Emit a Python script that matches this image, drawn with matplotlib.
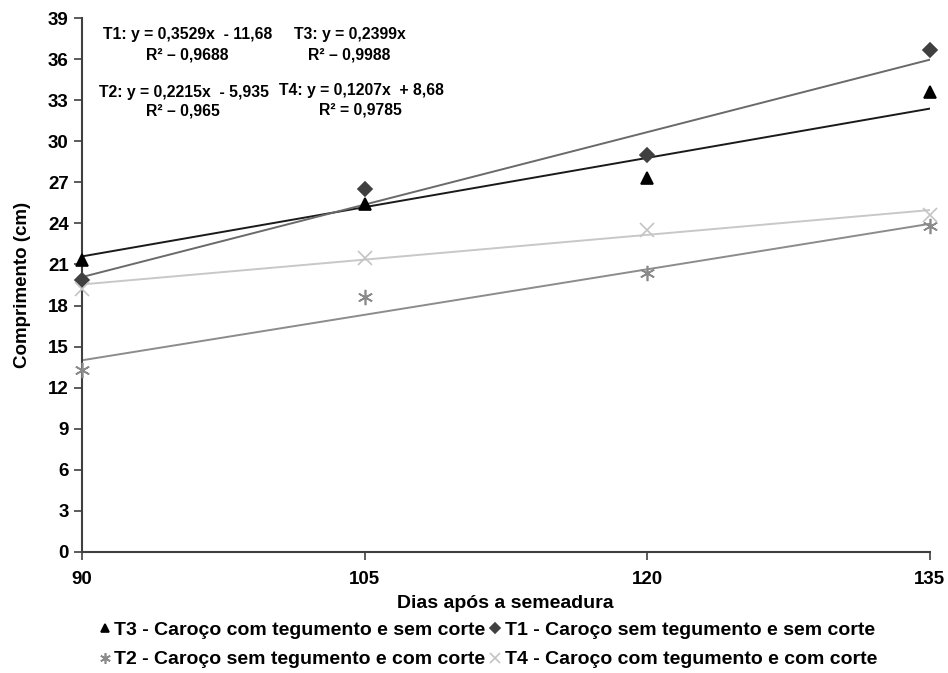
import numpy as np
import matplotlib.pyplot as plt

# days after sowing
dias = [90, 105, 120, 135]

# measured lengths (cm)
t1 = [19.9, 26.5, 29.0, 36.7]
t2 = [13.3, 18.6, 20.4, 23.8]
t3 = [21.3, 25.4, 27.3, 33.6]
t4 = [19.2, 21.5, 23.5, 24.6]

# trend line coefficients (slope, intercept) as printed on the chart
coef_t1 = (0.3529, -11.68)
coef_t2 = (0.2215, -5.935)
coef_t3 = (0.2399, 0.0)
coef_t4 = (0.1207, 8.68)

eq_labels = [
    ("T1: y = 0,3529x  - 11,68", "R² – 0,9688"),
    ("T3: y = 0,2399x", "R² – 0,9988"),
    ("T2: y = 0,2215x  - 5,935", "R² – 0,965"),
    ("T4: y = 0,1207x  + 8,68", "R² = 0,9785"),
]

plt.rcParams['font.family'] = ['Liberation Sans', 'DejaVu Sans']
plt.rcParams['font.weight'] = 'bold'

fig = plt.figure(figsize=(9.48, 6.73), dpi=100)
ax = fig.add_axes([0.0865, 0.18, 0.894, 0.793])

xs = np.array([dias[0], dias[-1]])
series = [
    (t3, coef_t3, '^', '#000000', '#1a1a1a', 8, "T3 - Caroço com tegumento e sem corte"),
    (t2, coef_t2, (6, 2, 0), '#8a8a8a', '#8c8c8c', 11, "T2 - Caroço sem tegumento e com corte"),
    (t1, coef_t1, 'D', '#404040', '#6a6a6a', 7, "T1 - Caroço sem tegumento e sem corte"),
    (t4, coef_t4, 'x', '#c4c4c4', '#c8c8c8', 10, "T4 - Caroço com tegumento e com corte"),
]

handles = []
for vals, (a, b), mk, mc, lc, ms, lab in series:
    ax.plot(xs, a * xs + b, color=lc, lw=1.4, zorder=2)
    h, = ax.plot(dias, vals, linestyle='none', marker=mk, color=mc,
                 markersize=ms, markeredgewidth=1.2, clip_on=False, zorder=3, label=lab)
    handles.append(h)

ax.set_xlim(90, 135)
ax.set_ylim(0, 39)
ax.set_xticks(dias)
ax.set_yticks(np.arange(0, 40, 3))
ax.spines['top'].set_visible(False)
ax.spines['right'].set_visible(False)
for s in ('left', 'bottom'):
    ax.spines[s].set_color('#404040')
    ax.spines[s].set_linewidth(1.5)
ax.tick_params(axis='both', direction='out', length=6, width=1.2, color='#404040',
               labelsize=13.5)
ax.tick_params(axis='x', pad=8)

ax.set_xlabel("Dias após a semeadura", fontsize=14, fontweight='bold', labelpad=5)
ax.set_ylabel("Comprimento (cm)", fontsize=13.5, fontweight='bold', labelpad=12)

# regression equations
pos = [(188, 35), (350, 35), (184, 92), (361, 90)]
r2pos = [(187, 55), (349, 55), (183, 111), (360, 110)]
for (eq, r2), (px, py), (rx, ry) in zip(eq_labels, pos, r2pos):
    fig.text(px / 948, 1 - py / 673, eq, ha='center', va='center', fontsize=11.3)
    fig.text(rx / 948, 1 - ry / 673, r2, ha='center', va='center', fontsize=11.3)

leg = fig.legend(handles=[handles[0], handles[1], handles[2], handles[3]], ncol=2,
                 loc='center', bbox_to_anchor=(0.515, 0.0416), frameon=False,
                 fontsize=14, handlelength=0.6, handletextpad=0.2,
                 columnspacing=0.2, labelspacing=0.6, markerscale=0.7)

plt.savefig("out.png", dpi=100)
